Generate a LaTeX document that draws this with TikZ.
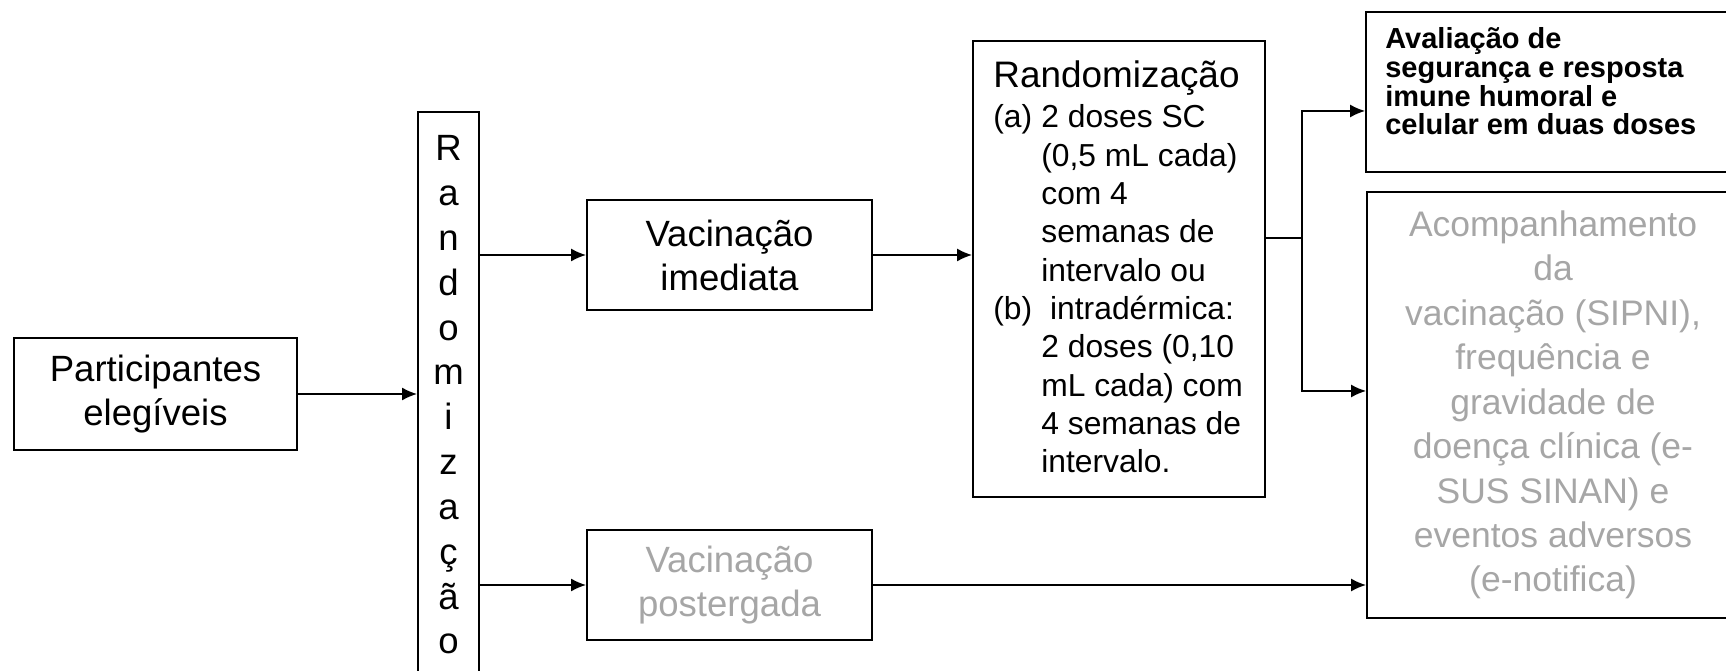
\documentclass[tikz,border=0pt]{standalone}
\usepackage{fontspec}
\setmainfont{Liberation Sans}
\usepackage{xcolor}
\usepackage{tikz}
\usetikzlibrary{positioning, arrows.meta}
\definecolor{txtgray}{RGB}{166,166,166}
\newcommand{\boxfont}{\fontsize{20.8}{25}\selectfont}
\newcommand{\titlefont}{\fontsize{21}{25}\selectfont}
\newcommand{\listfont}{\fontsize{18.1}{21.8}\selectfont}
\newcommand{\grayfont}{\fontsize{20.2}{25.3}\selectfont}
\newcommand{\avalfont}{\fontsize{16.5}{16.5}\selectfont\bfseries}
\newcommand{\ind}{\hspace*{0.96cm}}

\begin{document}
\begin{tikzpicture}[x=0.02cm, y=-0.02cm,
		caixa/.style={draw, line width=1.1pt, inner sep=0pt, align=center, font=\boxfont},
		seta/.style={line width=0.9pt, -{Latex[length=0.3cm,width=0.26cm]}}]
				\useasboundingbox (0,0) rectangle (1726,671);
				\clip (0,0) rectangle (1726,671);
				
				\node[caixa, minimum width=5.66cm, minimum height=2.24cm] (part) at (155.5,394) {Participantes\\elegíveis};
				
				\node[caixa, minimum width=1.22cm, minimum height=11.76cm] (rnd) at (448.5,406) {};
				\foreach \ch [count=\i from 0] in {R,a,n,d,o,m,i,z,a,ç,ã,o}
					\node[font=\boxfont, anchor=base, inner sep=0pt] (l\i) at (448.5,{161+44.8*\i}) {\ch};
				
				\node[caixa, minimum width=5.7cm, minimum height=2.2cm] (imed) at (729.5,255) {Vacinação\\imediata};
				\node[caixa, minimum width=5.7cm, minimum height=2.2cm, text=txtgray] (post) at (729.5,585) {Vacinação\\postergada};
				
				\node[caixa, minimum width=5.84cm, minimum height=9.12cm] (rzm) at (1119,269) {};
				\node[font=\titlefont, anchor=base, inner sep=0pt] (rzmt) at (1116.5,88) {Randomização};
				% base anchor = baseline of the last line
				\node[font=\listfont, anchor=base west, align=left, inner sep=0pt] (rzml) at (993,472.7) {%
					\makebox[0.96cm][l]{(a)}2 doses SC\\
					\ind(0,5 mL cada)\\
					\ind com 4\\
					\ind semanas de\\
					\ind intervalo ou\\
					\makebox[0.96cm][l]{(b)}\ intradérmica:\\
					\ind 2 doses (0,10\\
					\ind mL cada) com\\
					\ind 4 semanas de\\
					\ind intervalo.};
				
				\node[caixa, minimum width=7.46cm, minimum height=3.2cm] (aval) at (1552.5,92) {};
				\node[font=\avalfont, anchor=base west, align=left, inner sep=0pt] (avalt) at (1385,135) {Avaliação de\\segurança e resposta\\imune humoral e\\celular em duas doses};
				
				\node[caixa, minimum width=7.44cm, minimum height=8.52cm, font=\grayfont, text=txtgray] (acomp) at (1553,405) {Acompanhamento\\da\\vacinação (SIPNI),\\frequência e\\gravidade de\\doença clínica (e-\\SUS SINAN) e\\eventos adversos\\(e-notifica)};
				
				\coordinate (br) at (1302,238);
				\coordinate (ja) at (1302,111);
				\coordinate (jb) at (1302,391);
				
				\draw[seta] (part) -- (rnd.west |- part);
				\draw[seta] (rnd.east |- imed) -- (imed);
				\draw[seta] (rnd.east |- post) -- (post);
				\draw[seta] (imed.east) -- (rzm.west |- imed.east);
				\draw[seta] (post.east) -- (acomp.west |- post.east);
				\draw[line width=0.9pt] (rzm.east |- br) -- (br);
				\draw[seta] (br) -- (ja) -- (aval.west |- ja);
				\draw[seta] (br) -- (jb) -- (acomp.west |- jb);
			\end{tikzpicture}
\end{document}
